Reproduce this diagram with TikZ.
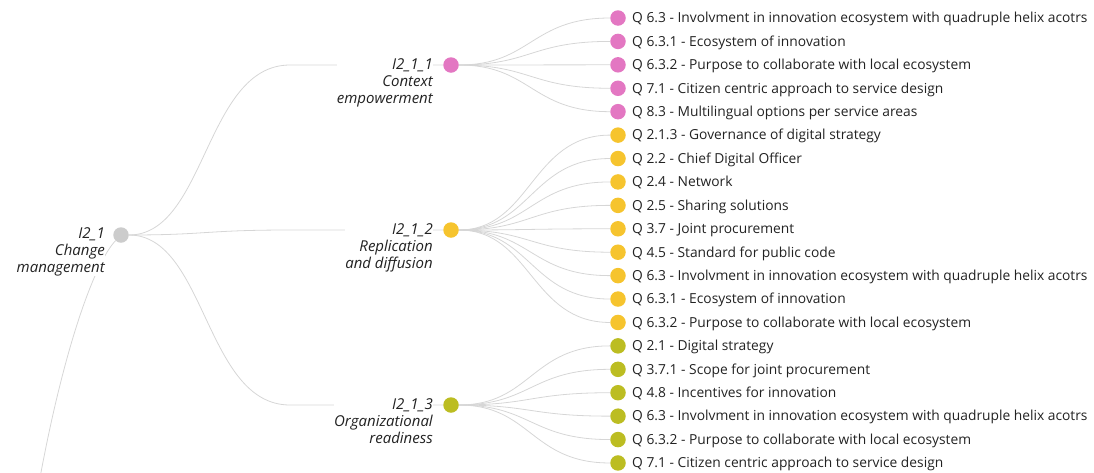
\documentclass[tikz,border=0pt]{standalone}
\usepackage{fontspec}
\setmainfont{Open Sans}
\usetikzlibrary{backgrounds}
\definecolor{lnkc}{HTML}{D6D6D6}
\definecolor{cgray}{HTML}{CCCCCC}
\definecolor{cpink}{HTML}{E377C2}
\definecolor{cyel}{HTML}{F6C42E}
\definecolor{cgrn}{HTML}{BCBD22}
\definecolor{txt}{HTML}{222222}
\begin{document}
\begin{tikzpicture}[x=1pt,y=-1pt,
  dot/.style={circle,inner sep=0pt,minimum size=15.5pt,fill=#1},
  lnk/.style={draw=lnkc,line width=0.8pt},
  leaflab/.style={anchor=base west,inner sep=0pt,font=\fontsize{13.8}{15}\selectfont,text=txt},
  grouplab/.style={anchor=north east,inner sep=0pt,align=right,font=\fontsize{15}{17.2}\selectfont\itshape,text=txt,fill=white}
]
\useasboundingbox (0,0) rectangle (1094,472);
\clip (0,0) rectangle (1094,472);

% root
\node[dot=cgray] (root) at (121,235) {};
\coordinate (parent) at (36,500);
% level 2
\node[dot=cpink] (n1) at (451,65) {};
\node[dot=cyel]  (n2) at (451,230) {};
\node[dot=cgrn]  (n3) at (451,405) {};

\begin{pgfonlayer}{background}
\draw[lnk] (parent) .. controls (62,350) and (95,262) .. (root);
\foreach \n in {n1,n2,n3}{
  \draw[lnk] (root) .. controls ([xshift=85pt]root.center) and ([xshift=-246pt]\n.center) .. ([xshift=-161pt]\n.center) -- (\n);
}
\end{pgfonlayer}

% leaves
\foreach \c/\p/\t [count=\i from 0] in {
 cpink/n1/{Q 6.3 - Involvment in innovation ecosystem with quadruple helix acotrs},
 cpink/n1/{Q 6.3.1 - Ecosystem of innovation},
 cpink/n1/{Q 6.3.2 - Purpose to collaborate with local ecosystem},
 cpink/n1/{Q 7.1 - Citizen centric approach to service design},
 cpink/n1/{Q 8.3 - Multilingual options per service areas},
 cyel/n2/{Q 2.1.3 - Governance of digital strategy},
 cyel/n2/{Q 2.2 - Chief Digital Officer},
 cyel/n2/{Q 2.4 - Network},
 cyel/n2/{Q 2.5 - Sharing solutions},
 cyel/n2/{Q 3.7 - Joint procurement},
 cyel/n2/{Q 4.5 - Standard for public code},
 cyel/n2/{Q 6.3 - Involvment in innovation ecosystem with quadruple helix acotrs},
 cyel/n2/{Q 6.3.1 - Ecosystem of innovation},
 cyel/n2/{Q 6.3.2 - Purpose to collaborate with local ecosystem},
 cgrn/n3/{Q 2.1 - Digital strategy},
 cgrn/n3/{Q 3.7.1 - Scope for joint procurement},
 cgrn/n3/{Q 4.8 - Incentives for innovation},
 cgrn/n3/{Q 6.3 - Involvment in innovation ecosystem with quadruple helix acotrs},
 cgrn/n3/{Q 6.3.2 - Purpose to collaborate with local ecosystem},
 cgrn/n3/{Q 7.1 - Citizen centric approach to service design}}{
  \pgfmathsetmacro\yy{18+23.42*\i}
  \node[dot=\c] (l\i) at (618,\yy) {};
  \node[leaflab] (t\i) at (632,\yy+4.8) {\t};
  \begin{pgfonlayer}{background}
  \draw[lnk] (\p) .. controls ([xshift=80pt]\p.center) and ([xshift=-87pt]l\i.center) .. (l\i);
  \end{pgfonlayer}
}

% labels
\node[grouplab] (rootlab) at (105,227) {I2\_1\\Change\\management};
\node[grouplab] (n1lab) at (433,58) {I2\_1\_1\\Context\\empowerment};
\node[grouplab] (n2lab) at (433,223) {I2\_1\_2\\Replication\\and diffusion};
\node[grouplab] (n3lab) at (433,398) {I2\_1\_3\\Organizational\\readiness};
\end{tikzpicture}
\end{document}
